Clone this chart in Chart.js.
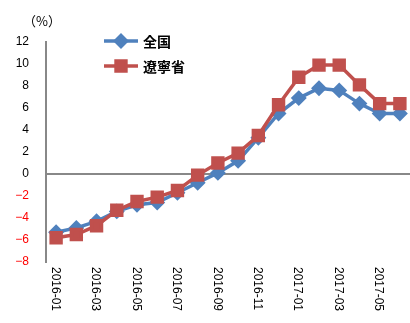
<!DOCTYPE html>
<html>
<head>
    <meta charset="UTF-8">
    <title>全国 vs 遼寧省</title>
    <script src="https://cdn.jsdelivr.net/npm/chart.js"></script>
    <style>
        html, body { margin: 0; padding: 0; background: #fff; }
        canvas { display: block; }
    </style>
</head>
<body>
    <canvas id="chart" width="410" height="323"></canvas>
    <script>
        // categories (months)
        const months = [
            '2016-01','2016-02','2016-03','2016-04','2016-05','2016-06',
            '2016-07','2016-08','2016-09','2016-10','2016-11','2016-12',
            '2017-01','2017-02','2017-03','2017-04','2017-05','2017-06'
        ];
        // series values (%)
        const national = [-5.3, -4.9, -4.3, -3.4, -2.8, -2.6, -1.7, -0.8, 0.1, 1.2, 3.3, 5.5, 6.9, 7.8, 7.6, 6.4, 5.5, 5.5];
        const liaoning = [-5.8, -5.5, -4.7, -3.3, -2.5, -2.1, -1.5, -0.1, 1.0, 1.9, 3.5, 6.3, 8.8, 9.9, 9.9, 8.1, 6.4, 6.4];
        const seriesNames = ['全国', '遼寧省'];
        // x tick labels shown (every other month)
        const xTickLabels = ['2016-01','2016-03','2016-05','2016-07','2016-09','2016-11','2017-01','2017-03','2017-05'];

        const BLUE = '#4F81BD';
        const RED = '#C0504D';
        const FONT = '"Liberation Sans", Arial, sans-serif';
        const CJK = '"Noto Sans CJK JP", "Noto Sans CJK SC", sans-serif';

        // legend, unit label and vertical x labels
        const extras = {
            id: 'extras',
            afterDraw(chart) {
                const ctx = chart.ctx;
                const x = chart.scales.x;
                ctx.save();

                // unit
                ctx.fillStyle = '#000';
                ctx.font = '13px ' + CJK;
                ctx.textBaseline = 'middle';
                ctx.textAlign = 'left';
                ctx.fillText('（%）', 23, 21);

                // x labels, reading top to bottom
                ctx.font = '12px ' + FONT;
                months.forEach((m, i) => {
                    if (!xTickLabels.includes(m)) return;
                    const px = x.getPixelForValue(i);
                    ctx.save();
                    ctx.translate(px - 1, 267);
                    ctx.rotate(Math.PI / 2);
                    ctx.textAlign = 'left';
                    ctx.textBaseline = 'middle';
                    ctx.fillText(m, 0, 0);
                    ctx.restore();
                });

                // legend
                chart.data.datasets.forEach((ds, i) => {
                    const y = 41 + i * 25;
                    ctx.strokeStyle = ds.borderColor;
                    ctx.lineWidth = 3.5;
                    ctx.beginPath();
                    ctx.moveTo(104, y);
                    ctx.lineTo(138, y);
                    ctx.stroke();
                    ctx.fillStyle = ds.borderColor;
                    Chart.helpers.drawPoint(ctx, {
                        pointStyle: ds.pointStyle,
                        radius: ds.pointRadius,
                        borderWidth: 1
                    }, 121, y);
                    ctx.fillStyle = '#000';
                    ctx.font = 'bold 14px ' + CJK;
                    ctx.textAlign = 'left';
                    ctx.textBaseline = 'middle';
                    ctx.fillText(ds.label, 143, y + 1);
                });
                ctx.restore();
            }
        };

        new Chart(document.getElementById('chart'), {
            type: 'line',
            data: {
                labels: months,
                datasets: [
                    {
                        label: seriesNames[0],
                        data: national,
                        borderColor: BLUE,
                        backgroundColor: BLUE,
                        pointBackgroundColor: BLUE,
                        pointBorderColor: BLUE,
                        pointStyle: 'rectRot',
                        pointRadius: 5.5,
                        borderWidth: 3.5,
                        tension: 0,
                        order: 1
                    },
                    {
                        label: seriesNames[1],
                        data: liaoning,
                        borderColor: RED,
                        backgroundColor: RED,
                        pointBackgroundColor: RED,
                        pointBorderColor: RED,
                        pointStyle: 'rect',
                        pointRadius: 7,
                        borderWidth: 3.5,
                        tension: 0,
                        order: 0
                    }
                ]
            },
            options: {
                responsive: false,
                animation: false,
                layout: { autoPadding: false, padding: { top: 42, right: 0, left: 0, bottom: 0 } },
                plugins: {
                    legend: { display: false },
                    tooltip: { enabled: false }
                },
                scales: {
                    x: {
                        offset: true,
                        grid: { display: false },
                        border: { display: false },
                        ticks: { display: false },
                        afterFit(scale) { scale.height = 61; }
                    },
                    y: {
                        min: -8,
                        max: 12,
                        border: { display: true, color: '#888', width: 2 },
                        grid: {
                            drawTicks: false,
                            lineWidth: 2,
                            color: c => c.tick.value === 0 ? '#888' : 'rgba(0,0,0,0)'
                        },
                        ticks: {
                            stepSize: 2,
                            padding: 17,
                            font: { size: 12, family: FONT },
                            color: c => c.tick.value < 0 ? '#FF0000' : '#000',
                            callback: v => v < 0 ? '−' + Math.abs(v) : String(v)
                        },
                        afterFit(scale) { scale.width = 46; }
                    }
                }
            },
            plugins: [extras]
        });
    </script>
</body>
</html>
